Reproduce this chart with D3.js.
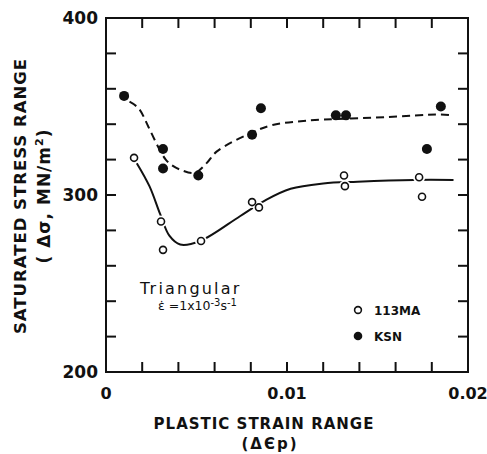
<!DOCTYPE html>
<html>
<head>
<meta charset="utf-8">
<script src="https://cdn.jsdelivr.net/npm/d3@7"></script>
<style>
  body { margin: 0; background: #fff; }
  svg text { font-family: "DejaVu Sans", sans-serif; fill: #111; }
</style>
</head>
<body>
<div id="chart"></div>
<script>
// 113MA (open circles) measurements
const ma_strain = [0.00155, 0.00304, 0.00315, 0.00525, 0.00807, 0.00845, 0.01315, 0.0132, 0.0173, 0.01746]
const ma_stress = [321, 285, 269, 274, 296, 293, 311, 305, 310, 299]

// KSN (filled circles) measurements
const ksn_strain = [0.0010, 0.00315, 0.00315, 0.0051, 0.00807, 0.00856, 0.0127, 0.01326, 0.01773, 0.0185]
const ksn_stress = [356, 326, 315, 311, 334, 349, 345, 345, 326, 350]

// hand drawn trend curves
const ma_fit_strain = [0.0017, 0.0024, 0.0030, 0.0035, 0.0041, 0.0052, 0.0074, 0.0088, 0.0102, 0.0120, 0.0139, 0.0170, 0.0192]
const ma_fit_stress = [318, 305, 289, 277, 272, 274, 288, 297, 303.5, 306.5, 307.5, 308.5, 308.5]
const ksn_fit_strain = [0.0013, 0.0018, 0.00234, 0.00289, 0.0033, 0.00362, 0.00418, 0.0049, 0.00556, 0.00611, 0.0080, 0.0092, 0.0111, 0.0155, 0.0185, 0.0192]
const ksn_fit_stress = [352.7, 349, 338.6, 327, 320, 317, 314, 312.5, 318, 324.5, 335, 339.5, 342, 344, 345.5, 345]

const x_ticks = d3.range(0, 0.02001, 0.002)
const y_ticks = d3.range(200, 401, 20)
const x_labels = [0, 0.01, 0.02]
const y_labels = [200, 300, 400]

const width = 487, height = 454
const margin = {top: 18, right: 19, bottom: 82, left: 106}
const plot_w = width - margin.left - margin.right
const plot_h = height - margin.top - margin.bottom
const tick_len = 10

const svg = d3.select("#chart").append("svg")
    .attr("width", width)
    .attr("height", height)

const graph = svg.append("g")
    .attr("transform", `translate(${margin.left},${margin.top})`)

let x = d3.scaleLinear().domain([0, 0.02]).range([0, plot_w])
let y = d3.scaleLinear().domain([200, 400]).range([plot_h, 0])

// frame
graph.append("rect")
    .attr("width", plot_w)
    .attr("height", plot_h)
    .attr("fill", "none")
    .attr("stroke", "#111")
    .attr("stroke-width", 2)

// inward ticks on all four sides
const tick_data = []
x_ticks.slice(1, -1).forEach(t => {
    tick_data.push([x(t), plot_h, x(t), plot_h - tick_len])
    tick_data.push([x(t), 0, x(t), tick_len])
})
y_ticks.slice(1, -1).forEach(t => {
    tick_data.push([0, y(t), tick_len, y(t)])
    tick_data.push([plot_w, y(t), plot_w - tick_len, y(t)])
})
graph.selectAll(".tk").data(tick_data).enter().append("line")
    .attr("x1", d => d[0]).attr("y1", d => d[1])
    .attr("x2", d => d[2]).attr("y2", d => d[3])
    .style("stroke", "#111")
    .style("stroke-width", "2px")

// tick labels
graph.selectAll(".xlab").data(x_labels).enter().append("text")
    .attr("x", d => x(d))
    .attr("y", plot_h + 27)
    .style("text-anchor", "middle")
    .style("font-size", "16px").style("font-weight", "bold")
    .text(d => d === 0 ? "0" : d3.format(".2f")(d))
graph.selectAll(".ylab").data(y_labels).enter().append("text")
    .attr("x", -8)
    .attr("y", d => y(d) + 6)
    .style("text-anchor", "end")
    .style("font-size", "17px").style("font-weight", "bold")
    .text(d => d)

// curves
const line = d3.line()
    .x(d => x(d[0]))
    .y(d => y(d[1]))
    .curve(d3.curveCatmullRom.alpha(0.5))

graph.append("path")
    .datum(ksn_fit_strain.map((v, i) => [v, ksn_fit_stress[i]]))
    .attr("d", line)
    .attr("fill", "none")
    .attr("stroke", "#111")
    .attr("stroke-width", 2)
    .attr("stroke-dasharray", "8,5")

graph.append("path")
    .datum(ma_fit_strain.map((v, i) => [v, ma_fit_stress[i]]))
    .attr("d", line)
    .attr("fill", "none")
    .attr("stroke", "#111")
    .attr("stroke-width", 2)

// open circles: white halo breaks the line around each marker
const ma_data = ma_strain.map((v, i) => ({strain: v, stress: ma_stress[i]}))
graph.selectAll(".halo").data(ma_data).enter().append("circle")
    .attr("cx", d => x(d.strain))
    .attr("cy", d => y(d.stress))
    .attr("r", 6)
    .attr("fill", "#fff")
graph.selectAll(".ma").data(ma_data).enter().append("circle")
    .attr("cx", d => x(d.strain))
    .attr("cy", d => y(d.stress))
    .attr("r", 3.5)
    .attr("fill", "#fff")
    .attr("stroke", "#111")
    .attr("stroke-width", 1.6)

const ksn_data = ksn_strain.map((v, i) => ({strain: v, stress: ksn_stress[i]}))
graph.selectAll(".ksn").data(ksn_data).enter().append("circle")
    .attr("cx", d => x(d.strain))
    .attr("cy", d => y(d.stress))
    .attr("r", 5)
    .attr("fill", "#111")

// legend
graph.append("circle")
    .attr("cx", 252).attr("cy", 292).attr("r", 3.4)
    .attr("fill", "#fff").attr("stroke", "#111").attr("stroke-width", 1.6)
graph.append("text")
    .attr("x", 268).attr("y", 297)
    .style("font-size", "12px").style("font-weight", "bold")
    .text("113MA")
graph.append("circle")
    .attr("cx", 252).attr("cy", 318).attr("r", 4.3)
    .attr("fill", "#111")
graph.append("text")
    .attr("x", 268).attr("y", 323)
    .style("font-size", "12px").style("font-weight", "bold")
    .text("KSN")

// condition note
graph.append("text")
    .attr("x", 34).attr("y", 276)
    .style("font-size", "16px").style("letter-spacing", "2.2px")
    .text("Triangular")
const note = graph.append("text")
    .attr("x", 52).attr("y", 292)
    .style("font-size", "12.5px")
note.append("tspan").text("ε̇ =1x10")
note.append("tspan").attr("dy", -4).style("font-size", "10px").text("-3")
note.append("tspan").attr("dy", 4).text("s")
note.append("tspan").attr("dy", -4).style("font-size", "10px").text("-1")

// axis titles
svg.append("text")
    .attr("x", 264).attr("y", 429)
    .style("text-anchor", "middle")
    .style("font-size", "15px").style("font-weight", "bold").style("letter-spacing", "1px")
    .text("PLASTIC  STRAIN  RANGE")
svg.append("text")
    .attr("x", 270).attr("y", 449)
    .style("text-anchor", "middle")
    .style("font-size", "15px").style("font-weight", "bold").style("letter-spacing", "2px")
    .text("(ΔЄp)")

svg.append("text")
    .attr("transform", "translate(26,196) rotate(-90)")
    .style("text-anchor", "middle")
    .style("font-size", "16.5px").style("font-weight", "bold").style("letter-spacing", "1px")
    .text("SATURATED  STRESS  RANGE")
const ylab2 = svg.append("text")
    .attr("transform", "translate(50,196) rotate(-90)")
    .style("text-anchor", "middle")
    .style("font-size", "17px").style("font-weight", "bold").style("letter-spacing", "1px")
ylab2.append("tspan").text("( Δσ, MN/m")
ylab2.append("tspan").attr("dy", -7).style("font-size", "11px").text("2")
ylab2.append("tspan").attr("dy", 7).text(")")
</script>
</body>
</html>
